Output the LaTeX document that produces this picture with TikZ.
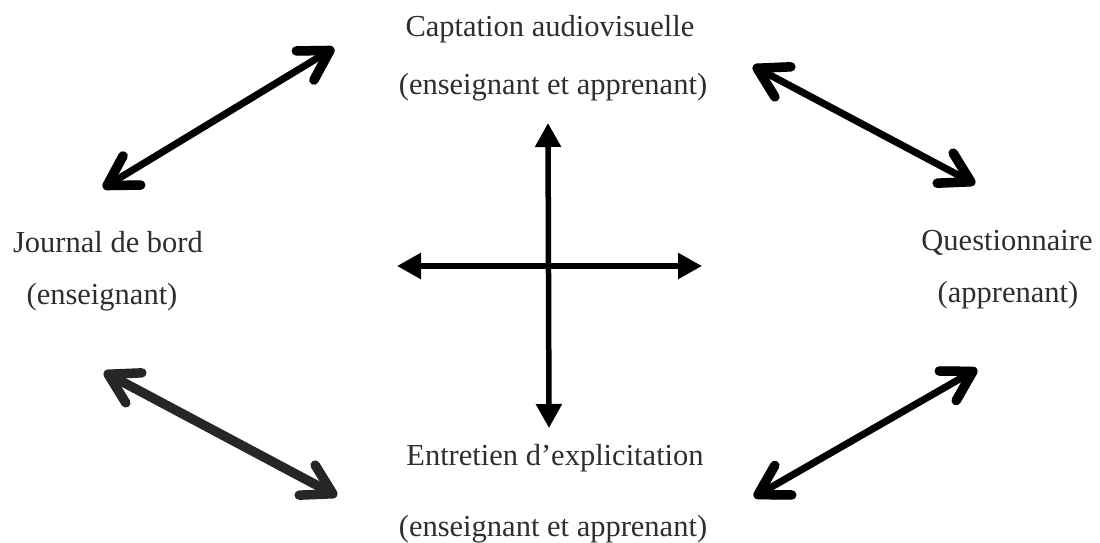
\documentclass[tikz,border=0pt]{standalone}
\usepackage{fontspec}
\setmainfont{Liberation Serif}
\usetikzlibrary{arrows.meta}
\tikzset{
  barbtip/.tip={Straight Barb[length=29pt,width=34pt,line width=9.5pt,round]},
  tritip/.tip={Triangle[length=24pt,width=25pt]}
}
\begin{document}
\begin{tikzpicture}[x=1pt,y=-1pt,
  lbl/.style={font=\fontsize{30.5}{36}\selectfont, text=black!82, inner sep=0pt, anchor=base},
  barb/.style={line width=7pt, draw=black, line cap=round, barbtip-barbtip},
  tri/.style={line width=5.5pt, draw=black, tritip-tritip},
  shade/.style={draw=black!22, shift={(2.5,2.5)}}]
\useasboundingbox (0,0) rectangle (1100,543);

% labels (placed on their baselines)
\node[lbl] (cap1) at (550,37) {Captation audiovisuelle};
\node[lbl] (cap2) at (553,94) {(enseignant et apprenant)};
\node[lbl] (jb1) at (108,252) {Journal de bord};
\node[lbl] (jb2) at (102,304) {(enseignant)};
\node[lbl] (q1) at (1007,250) {Questionnaire};
\node[lbl] (q2) at (1008,302) {(apprenant)};
\node[lbl] (ent1) at (555,465) {Entretien d’explicitation};
\node[lbl] (ent2) at (553,536) {(enseignant et apprenant)};

% arrow end points
\coordinate (tlA) at (103,188);
\coordinate (tlB) at (334,48);
\coordinate (trA) at (753,66);
\coordinate (trB) at (975,184);
\coordinate (blA) at (104,372);
\coordinate (blB) at (337,496);
\coordinate (brA) at (754,497);
\coordinate (brB) at (977,369);
\coordinate (vT) at (548,123);
\coordinate (vB) at (549,428);
\coordinate (hL) at (397,266);
\coordinate (hR) at (702,266);

% soft drop shadows
\draw[barb,shade] (tlA) -- (tlB);
\draw[barb,shade] (trA) -- (trB);
\draw[barb,shade] (brA) -- (brB);

% diagonal double arrows
\draw[barb] (tlA) -- (tlB);
\draw[barb] (trA) -- (trB);
\draw[barb,draw=black!85,line width=9.5pt] (blA) -- (blB);
\draw[barb] (brA) -- (brB);

% central cross
\draw[tri] (vT) -- (vB);
\draw[tri] (hL) -- (hR);
\end{tikzpicture}
\end{document}
